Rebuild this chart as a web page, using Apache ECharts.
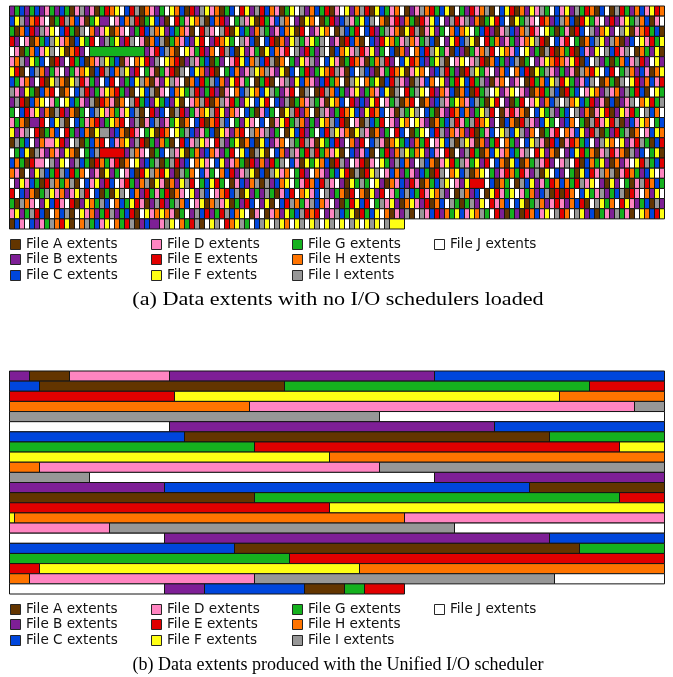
<!DOCTYPE html>
<html>
<head>
<meta charset="utf-8">
<script src="https://cdn.jsdelivr.net/npm/echarts@6/dist/echarts.min.js"></script>
<style>
  html, body { margin: 0; padding: 0; background: #ffffff; }
  #chart { width: 673px; height: 677px; }
</style>
</head>
<body>
<div id="chart"></div>
<script>
// File identifiers, legend labels and fill colours
const fileKeys = ['A', 'B', 'C', 'D', 'E', 'F', 'G', 'H', 'I', 'J'];
const fileLabels = ['File A extents', 'File B extents', 'File C extents', 'File D extents', 'File E extents',
                    'File F extents', 'File G extents', 'File H extents', 'File I extents', 'File J extents'];
const fileColors = ['#633500', '#7e1f96', '#0046dc', '#ff85c1', '#e10000',
                    '#ffff14', '#15b11e', '#ff7400', '#979797', '#ffffff'];

// Disk geometry: blocks per displayed row, number of rows
const blocksPerRow = 131;
const rowCount = 22;

// Block map with no I/O scheduler: one letter per block, a run of the same letter is one extent
const plainRows = [
  'BGCBGCBDGB CGADIBDAGE HFJCEIAHDB GJFHCAEBIF DHAGCJEFBI ECHDAGFJIB HCGEADJFBH IEAFCGDHJA BDIHEGCFAJ GBEDHIAJCF EAHBFDIGJC DFBIGEHACJ AIEGBHCDFE H',
  'CFIBHEDJAG EIHCDAGFBB JDCHIEAGFC BAJEGDFHIA CHEBJGIDFA EGDCIHJBAF HJAGEBCIDG FCIJHADEBH GAEDFCJBIE DIBHAGFECJ AFGIDJEHBC IHCAEFGDJB EBDFGIHCAD J',
  'GAHCEBIDFJ CEGAIJHBDF AHDJBGECIH FBCGHDAJEI DJIEAFCGBH IGBDCHFAEJ BDFHJAICGE JCEBGIDHAF EIADFBGJHC HFJGCEBADI CBHIEDJFGA GDAECJIBHF BJIFADHEGC A',
  'EBJDAHGCIF DHACFGEJBI GFBEIJDAHC IAGHDCBFEJ BEHFGJIDCA JCEAHBFIGD FGIJBDAECH AJCBEFHGDI HDGICAJBFE CIFAJEGHBD GBDHFIEAJC DEJGAHCIFB IHABCJFDEG F',
  'JDAGHCDFIJ FAHEBJGGGG GGGGGGGBDE CIHAJFDGEB HJEICAFBDG AFCHDEJIBE GBIJACHFDI EDFBGJCAHB JHCEIFGDAC BAGDHIEJFH DCJFBGAIEA HGEACDBFJI CEDIJAHGBF A',
  'DHIBFGCJAE BJEGCAHDIF GCADJHFEBI JFHEABIDGC AGBJDEFCHI CEIAHJGBFD IBJCFDAGEH DAGHIEBJCF EHCBGFIAJD FJDIEAHCGB CIAGJBDFHE HDFEACJIBG AGHCDIEBJF B',
  'FEAJCIHBGD JBGDHFACEI CHIFBEJGDA GDEAIJCFHB EAJGCHBDIF HIDBFACJGE BGFHEIDACJ ICBADGEHFA DFHJBCIEGB AEIFGDJBHC JHCEAFGIDB GBDAIHEFJC EJGIHBCDAH F',
  'CGDHBJEAFI HAFIEDGBJC EJBGCFIHAD BFIDJAHCEG ICHBFEDGJA GEAJDIBFCH DBCEGHJAIF JHGFACEIDB AIDCHJFBGE FCEGIBADHJ BDJAEGHCFI EFGBDCIJAH GAIJFEBHCD E',
  'IDBFGACHEJ AHJCIEBGDF HEGBAJFCIA DJCHFGIEBG EBADJHCIFH CFIGBDEJAI JAEIHCGBDF BGHDCFAIJE GIFJEBHDCA HCAEGIJFBD FJDBAHEGIC AEGCJDFHBI DHBIGECAJF G',
  'BIEACHFJDG JFCGDBIAEH DAHJIEGCBF GCBFAJDHIE AHIDEGBFJC FEJCBIAGHD IGDAFHCJEB CBFEJDGIAH EJAHBCIDGF HDCIGAFEJB AGEJDFBHCI JIHFCGEBDA CABDIJHFEG I',
  'GJCEDFBHAI EBHAGJCIFD HGDFCIAJEB CJAIEBGDHF IEFBHDJCGA DCGJAFIEBH JAIDBGEHFC BFEHCJDAIG FIJCGADBEH CHBGFIEJAD EDHAJCFGIB GCJIBHADFE ABFDEGJICH J',
  'DGHABBEJCF IAJCGDHEBG FHEJBIADCI BDGFAHJCEA HEICJGBFDJ CJADFEGIHB GBFHICEAJD AICGEJDBFH JFDBAHGCIE DGIEHFBJAC HAEIDBCFGJ BCHJGAIEDF EIABCDFHJG C',
  'FBDIJEAGHC JEGBCHAFII BCHAEDJGFA EHJFGICBDG CAFDBHEJIH DIBGJAFCEB GJCEIFDHAF IDAHBGJECJ AGFJCEIBHD HBEAGDCJFI CFIBHJAGDE JHDCFBEIAG BEGIAHJDCF H',
  'AIGCJBHDDF EBJIAGCHEJ CDHFBIEAGB HGAJECDIFD JEIBGFAHCA FCBDHJIGEI DAFGCEBJHB EJCIDAHFGC BHGEJDFCIA IFDAHBGEJH GBJCFIDAEC ADEHGCJBIF HJFBDEIGAC E',
  'JGCFAIDBHD BFHAJGCIEE EEEBIHDJAG CJIDFAGHBC HDBGEJFCAI FAJCHBIDGE IEGHDFAJCB DCAJGEBHIF GHFBCDJEAJ BIEGAHCFDH CGDIJEFBHA JBCFEGHADI EDHAIBCJGF A',
  'CHGAEDDJIB FJBICGAEHG DEAHJFBCGI AGIEBCJHFD JCFBDHGAEB HBEGIJCDAF GFHCAEIBJD EADJFGBICH BJICHADFEG IDGFBEJCHA FCAHGIDEBJ DIJEACHGFB AHBDJFEIGC E',
  'HDAJBFICGE ICEGHJBDAF BGJDCAEFIH EFBAIGHJCD GJHCEBDIFA CAIFDHJGEB JHDBGCFEAI AEFIJDCHBG DBCGAEIJHF CIAHFJGBDE HGEDBIAFJC BJGAFCEDIH IADEHGBCFJ D',
  'JBFDCGAEIH GHIAJCDFBE CJDEGBHIAF DAHBFIEJGC FEGJADCBHI AIBCHFJGDE HCEIDJBAFG IGJFBAHDCB EDAHGCIFJD BFEEEJCAHG JAICFBDGEH CHGEIDFJBA FBJGADIEHC G',
  'EJCBHAGIFD HBDFIEJCAG AFIJCHBEGD GEAHDJFBIC JDHECIAFBG BIGADCEJHF DCJIBGHAEJ HAFBEJDGCI CGEDFHIBJA IHBCJAFEDG FJDGHBCIAE AEHJCFGDIB GCIAEDJHBF J',
  'GAIHDJBFCE DJEABFHGIC JHCGFEDABI EBGIHCJDFA HIDFAGBECJ BFAJCEIHGD ICHDJBAGEF CEJGIDFBAH FDBEAHCJIG AGIBFJEDHC JCFAGIHBDE DBHCEAJIFG HJEFDBGCAI B',
  'DFBGIECAJH CIAJFDHBGE IBGCEAJFDH FHDAGJBICE BGEICHFJAD JADHBFGCIE HEJBDICGFA EGCFJHADBI AJIDCEBHGF CDFHIGJEBA GBAEHCDFJI EHJIFBCAGD BIGDAJFHCE F',
  'ACDJCBDGIH EFAJHIGCDF JHGEIABCBB DIFJHGEIAJ FIJEHFIGJC IFJIFHJFIJ FIJFIJFJIF JFIFJIFFF'
];

// Extents written through the Unified I/O scheduler, in block order
const unifiedFiles = ['B', 'A', 'D',
  'B', 'C', 'A', 'G', 'E', 'F', 'H', 'D', 'I', 'J',
  'B', 'C', 'A', 'G', 'E', 'F', 'H', 'D', 'I', 'J',
  'B', 'C', 'A', 'G', 'E', 'F', 'H', 'D', 'I', 'J',
  'B', 'C', 'A', 'G', 'E', 'F', 'H', 'D', 'I', 'J',
  'B', 'C', 'A', 'G', 'E'];
const unifiedLengths = [4, 8, 20,
  53, 52, 49, 61, 48, 77, 69, 77, 80, 89,
  65, 69, 73, 72, 73, 73, 73, 68, 73, 69,
  77, 73, 76, 73, 73, 68, 78, 72, 69, 73,
  77, 68, 69, 73, 81, 64, 65, 45, 60, 53,
  8, 20, 8, 4, 8];

// Captions under each block map
const captionPlain = '(a) Data extents with no I/O schedulers loaded';
const captionUnified = '(b) Data extents produced with the Unified I/O scheduler';

// ---- build extents ----
function extentsFromRows(rows) {
  const seq = rows.join('').replace(/\s+/g, '');
  const out = [];
  let i = 0;
  while (i < seq.length) {
    let j = i;
    while (j < seq.length && seq[j] === seq[i]) j++;
    out.push({ file: fileKeys.indexOf(seq[i]), len: j - i });
    i = j;
  }
  return out;
}

function extentsFromLists(files, lengths) {
  return files.map((f, k) => ({ file: fileKeys.indexOf(f), len: lengths[k] }));
}

// Wrap a linear extent list onto rows of blocksPerRow blocks: [startBlock, endBlock, row, fileIndex]
function wrapExtents(extents) {
  const pieces = [];
  let pos = 0;
  extents.forEach(ex => {
    let start = pos;
    const end = pos + ex.len;
    while (start < end) {
      const row = Math.floor(start / blocksPerRow);
      const segEnd = Math.min(end, (row + 1) * blocksPerRow);
      pieces.push([start - row * blocksPerRow, segEnd - row * blocksPerRow, row, ex.file]);
      start = segEnd;
    }
    pos = end;
  });
  return pieces;
}

const plainPieces = wrapExtents(extentsFromRows(plainRows));
const unifiedPieces = wrapExtents(extentsFromLists(unifiedFiles, unifiedLengths));

function renderExtent(params, api) {
  const a = api.coord([api.value(0), api.value(2)]);
  const b = api.coord([api.value(1), api.value(2) + 1]);
  return {
    type: 'rect',
    shape: { x: a[0], y: Math.min(a[1], b[1]), width: b[0] - a[0], height: Math.abs(b[1] - a[1]) },
    style: { fill: fileColors[api.value(3)], stroke: '#141414', lineWidth: 1 }
  };
}

// ---- legend and captions as graphic elements ----
const legendColX = [10.5, 151.5, 292.5, 434.5];
const legendRowGap = 15.3;
function legendGraphics(topY) {
  const els = [];
  fileLabels.forEach((label, k) => {
    const col = Math.floor(k / 3);
    const row = k % 3;
    const cy = topY + row * legendRowGap;
    els.push({
      type: 'rect',
      shape: { x: legendColX[col], y: Math.round(cy - 5) + 0.5, width: 10, height: 10 },
      style: { fill: fileColors[k], stroke: '#262626', lineWidth: 1 },
      silent: true
    });
    els.push({
      type: 'text',
      x: legendColX[col] + 15.5,
      y: cy + 0.5,
      style: {
        text: label, fill: '#111', font: '13.6px "DejaVu Sans"',
        textAlign: 'left', textVerticalAlign: 'middle'
      },
      silent: true
    });
  });
  return els;
}

function captionGraphic(text, cy, stretch) {
  return {
    type: 'text', x: 338, y: cy, scaleX: stretch,
    style: {
      text: text, fill: '#000', font: '18px "Liberation Serif"',
      textAlign: 'center', textVerticalAlign: 'middle'
    },
    silent: true
  };
}

const chart = echarts.init(document.getElementById('chart'), null, { renderer: 'canvas' });

const gridTops = [6, 371];
const axisX = i => ({ type: 'value', gridIndex: i, min: 0, max: blocksPerRow, show: false });
const axisY = i => ({ type: 'value', gridIndex: i, min: 0, max: rowCount, inverse: true, show: false });

chart.setOption({
  animation: false,
  backgroundColor: '#ffffff',
  grid: gridTops.map(t => ({ left: 9.5, top: t, width: 655, height: 223 })),
  xAxis: [axisX(0), axisX(1)],
  yAxis: [axisY(0), axisY(1)],
  series: [
    {
      type: 'custom', name: 'No scheduler', xAxisIndex: 0, yAxisIndex: 0,
      renderItem: renderExtent, data: plainPieces, encode: { x: [0, 1], y: 2 }, clip: false, silent: true
    },
    {
      type: 'custom', name: 'Unified scheduler', xAxisIndex: 1, yAxisIndex: 1,
      renderItem: renderExtent, data: unifiedPieces, encode: { x: [0, 1], y: 2 }, clip: false, silent: true
    }
  ],
  graphic: [].concat(
    legendGraphics(244),
    legendGraphics(609),
    [captionGraphic(captionPlain, 300, 1.23), captionGraphic(captionUnified, 665, 1)]
  )
});
</script>
</body>
</html>
